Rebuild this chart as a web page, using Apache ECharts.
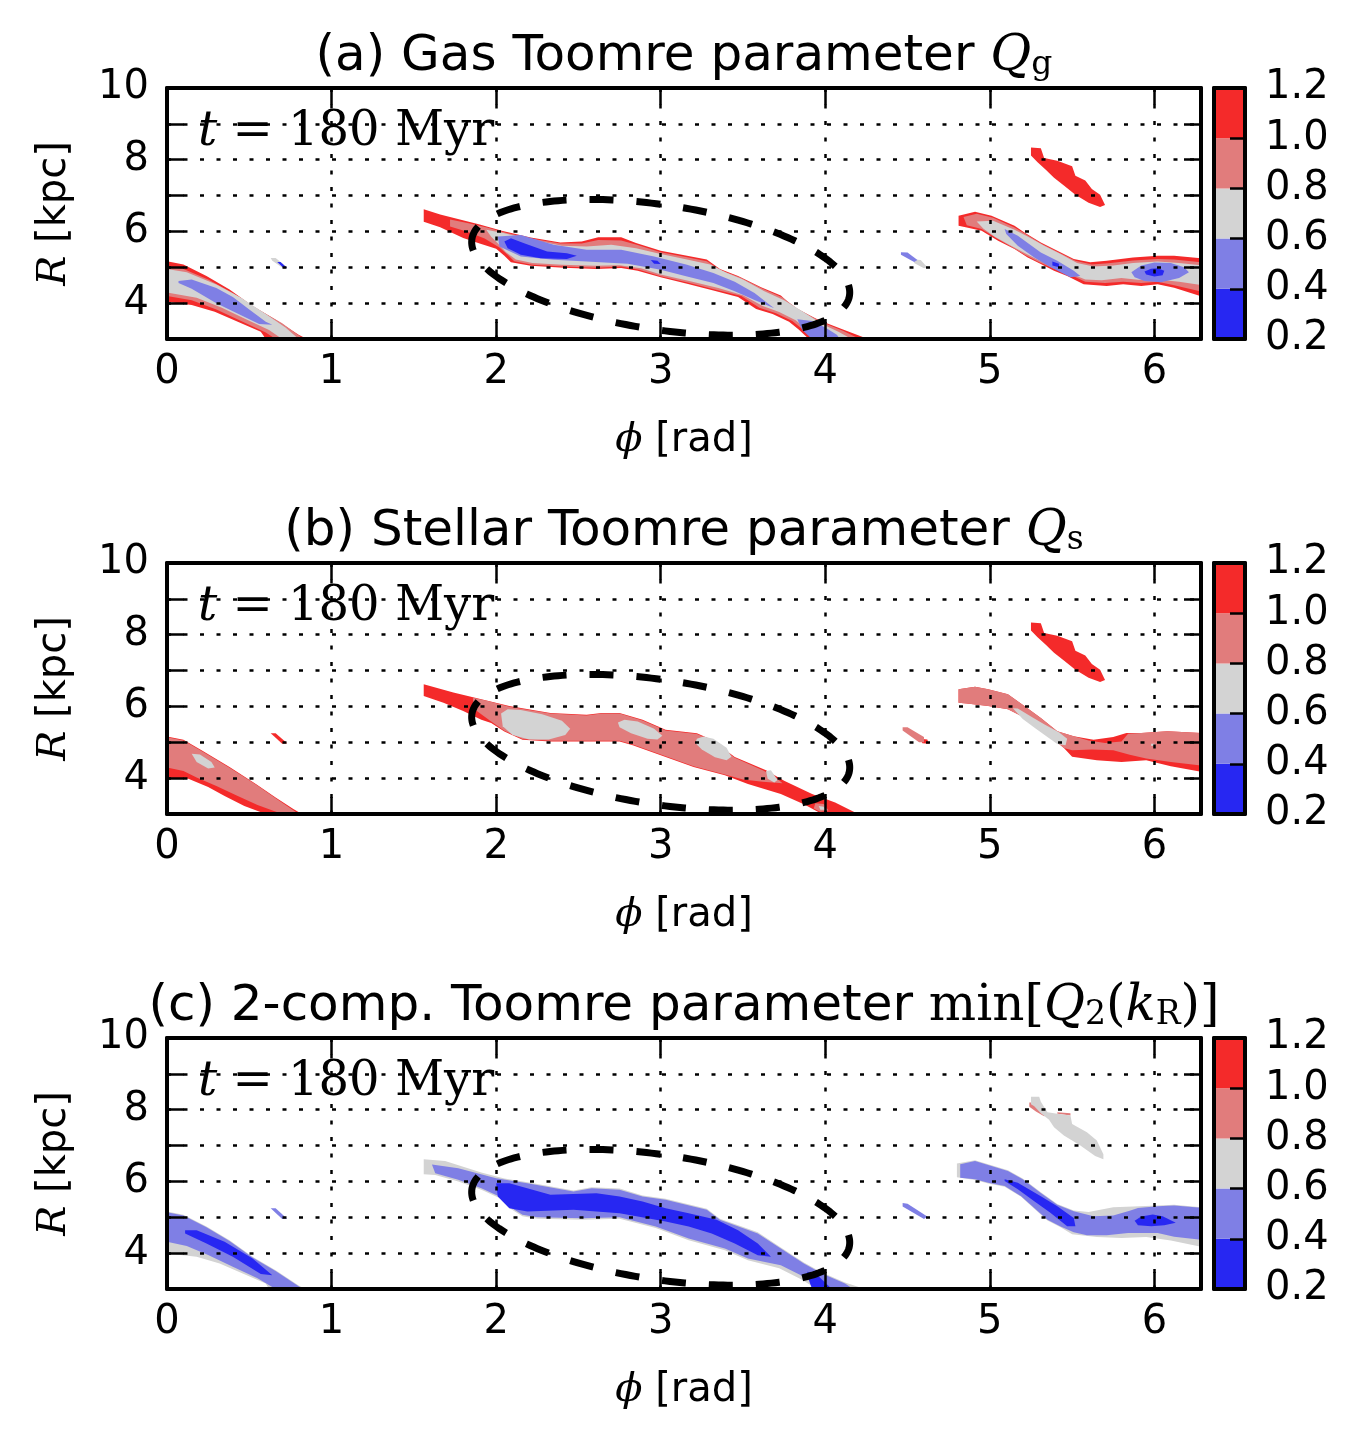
<!DOCTYPE html>
<html>
<head>
<meta charset="utf-8">
<script src="https://cdn.jsdelivr.net/npm/echarts@6/dist/echarts.min.js"></script>
<style>
  html, body { margin: 0; background: #fff; }
  #chart { width: 1359px; height: 1444px; }
</style>
</head>
<body>
<div id="chart"></div>
<script>
// contour levels of Q and their fill colours (lowest band first)
const qLevels = [0.2, 0.4, 0.6, 0.8, 1.0, 1.2];
const qColors = ['#2727f2', '#7f7fe5', '#d3d3d3', '#e17c7c', '#f42a2a'];
const phiTicks = [0, 1, 2, 3, 4, 5, 6];
const rLabels = [4, 6, 8, 10];

// dashed ellipse marking the region (centre phi, R ; semi-axes in data units ; tilt on screen)
const ellipseCenter = [3.0, 5.0];
const ellipseHalfPhi = 1.16;
const ellipseHalfR = 1.74;
const ellipseTilt = 8.5;

// ---- (a) gas Q : polygons [phi, R] per band ----
const streakOutline = [[5.25,8.34],[5.31,8.32],[5.33,8.05],[5.41,7.97],[5.50,7.82],[5.52,7.55],[5.58,7.42],[5.62,7.18],[5.67,7.02],[5.70,6.74],[5.67,6.68],[5.60,6.8],[5.52,7.02],[5.45,7.28],[5.39,7.5],[5.34,7.72],[5.29,7.93],[5.25,8.12]];

const gasRed = [
  [[0,5.17],[0.1,5.08],[0.24,4.76],[0.38,4.38],[0.52,3.92],[0.66,3.54],[0.8,3.12],[0.85,3.0],[0.6,3.0],[0.57,3.2],[0.43,3.48],[0.29,3.76],[0.15,3.95],[0,4.04]],
  [[1.56,6.62],[1.66,6.47],[1.78,6.33],[1.90,6.19],[2.04,6.01],[2.21,5.83],[2.39,5.69],[2.52,5.72],[2.62,5.84],[2.76,5.84],[2.85,5.68],[3.0,5.46],[3.16,5.32],[3.28,5.22],[3.36,4.95],[3.47,4.76],[3.61,4.44],[3.73,4.21],[3.81,3.88],[3.97,3.51],[4.10,3.28],[4.26,3.0],[3.90,3.0],[3.84,3.26],[3.78,3.48],[3.68,3.70],[3.58,3.84],[3.47,4.17],[3.32,4.35],[3.16,4.54],[3.0,4.72],[2.86,4.90],[2.76,4.98],[2.61,4.95],[2.41,4.99],[2.21,5.04],[2.09,5.14],[2.05,5.32],[2.0,5.52],[1.9,5.66],[1.8,5.82],[1.66,6.12],[1.56,6.27]],
  [[4.81,6.44],[4.91,6.55],[5.01,6.44],[5.15,6.16],[5.21,5.97],[5.31,5.69],[5.41,5.46],[5.51,5.23],[5.61,5.14],[5.71,5.18],[5.87,5.27],[6.02,5.32],[6.12,5.32],[6.29,5.25],[6.29,4.18],[6.12,4.43],[6.02,4.53],[5.92,4.48],[5.81,4.53],[5.71,4.48],[5.57,4.53],[5.47,4.76],[5.39,4.9],[5.31,5.09],[5.23,5.27],[5.15,5.51],[5.05,5.74],[4.95,6.02],[4.86,6.11],[4.81,6.16]],
  streakOutline
];
const gasPink = [
  [[0,5.02],[0.1,4.95],[0.25,4.66],[0.4,4.28],[0.55,3.84],[0.7,3.44],[0.83,3.0],[0.66,3.0],[0.6,3.18],[0.45,3.5],[0.3,3.82],[0.15,4.08],[0,4.2]],
  [[1.72,6.33],[1.84,6.22],[1.95,6.1],[2.06,5.96],[2.21,5.80],[2.39,5.66],[2.52,5.66],[2.62,5.76],[2.76,5.75],[2.86,5.62],[3.0,5.42],[3.16,5.28],[3.28,5.17],[3.37,4.91],[3.48,4.72],[3.62,4.40],[3.74,4.16],[3.83,3.85],[3.98,3.47],[4.11,3.22],[4.21,3.0],[3.93,3.0],[3.86,3.28],[3.8,3.5],[3.7,3.72],[3.6,3.87],[3.49,4.2],[3.33,4.38],[3.17,4.57],[3.0,4.75],[2.87,4.93],[2.76,5.02],[2.61,4.99],[2.41,5.02],[2.22,5.07],[2.11,5.17],[2.07,5.35],[2.02,5.55],[1.93,5.8],[1.82,6.0],[1.72,6.14]],
  [[4.84,6.40],[4.92,6.49],[5.02,6.38],[5.15,6.11],[5.22,5.92],[5.32,5.64],[5.42,5.41],[5.52,5.18],[5.62,5.08],[5.72,5.11],[5.87,5.19],[6.02,5.23],[6.12,5.22],[6.29,5.14],[6.29,4.32],[6.12,4.5],[6.02,4.6],[5.92,4.56],[5.81,4.6],[5.7,4.56],[5.58,4.6],[5.48,4.81],[5.39,4.96],[5.3,5.14],[5.22,5.33],[5.13,5.57],[5.04,5.81],[4.95,6.07],[4.86,6.17]]
];
const gasGray = [
  [[0,4.95],[0.12,4.86],[0.3,4.52],[0.45,4.15],[0.6,3.7],[0.72,3.32],[0.8,3.0],[0.7,3.0],[0.62,3.25],[0.48,3.55],[0.33,3.88],[0.18,4.15],[0,4.3]],
  [[0.63,5.26],[0.66,5.26],[0.73,5.0],[0.71,4.96],[0.64,5.18]],
  [[1.94,6.05],[2.05,5.95],[2.2,5.78],[2.4,5.6],[2.55,5.58],[2.7,5.63],[2.85,5.53],[3.0,5.37],[3.16,5.22],[3.3,5.08],[3.4,4.85],[3.5,4.66],[3.63,4.33],[3.75,4.08],[3.85,3.8],[3.98,3.42],[4.08,3.2],[4.16,3.0],[3.95,3.0],[3.88,3.3],[3.82,3.52],[3.72,3.75],[3.62,3.92],[3.5,4.22],[3.35,4.42],[3.18,4.61],[3.0,4.8],[2.88,4.97],[2.75,5.06],[2.6,5.04],[2.4,5.07],[2.22,5.12],[2.12,5.22],[2.06,5.42],[2.02,5.62],[1.97,5.85]],
  [[4.54,5.22],[4.58,5.2],[4.62,5.0],[4.6,4.97],[4.54,5.12]],
  [[4.92,6.28],[5.02,6.3],[5.15,6.05],[5.23,5.86],[5.33,5.6],[5.43,5.37],[5.53,5.12],[5.63,5.02],[5.75,5.05],[5.87,5.12],[6.02,5.16],[6.15,5.12],[6.29,5.05],[6.29,4.5],[6.15,4.6],[6.02,4.66],[5.9,4.65],[5.8,4.7],[5.68,4.64],[5.58,4.66],[5.49,4.83],[5.4,4.99],[5.31,5.17],[5.22,5.38],[5.12,5.62],[5.03,5.85],[4.96,6.08]]
];
const gasLight = [
  [[0.07,4.62],[0.15,4.66],[0.3,4.42],[0.4,4.17],[0.5,3.82],[0.6,3.48],[0.64,3.4],[0.56,3.42],[0.45,3.66],[0.3,4.0],[0.15,4.4],[0.07,4.56]],
  [[2.01,5.86],[2.15,5.90],[2.35,5.63],[2.55,5.49],[2.76,5.49],[2.96,5.30],[3.16,5.07],[3.32,4.84],[3.45,4.60],[3.57,4.28],[3.65,4.0],[3.69,3.86],[3.57,4.09],[3.45,4.33],[3.32,4.56],[3.16,4.74],[3.0,4.93],[2.8,5.1],[2.55,5.16],[2.35,5.21],[2.15,5.30],[2.02,5.58]],
  [[3.83,3.55],[3.92,3.5],[4.0,3.32],[4.07,3.12],[4.09,3.0],[3.92,3.0],[3.86,3.25]],
  [[4.46,5.42],[4.5,5.41],[4.56,5.2],[4.54,5.15],[4.46,5.35]],
  [[5.09,6.07],[5.17,5.88],[5.31,5.41],[5.41,5.18],[5.51,4.9],[5.55,4.76],[5.49,4.72],[5.37,5.0],[5.27,5.27],[5.17,5.6],[5.10,5.93]],
  [[5.86,4.86],[5.92,5.05],[6.0,5.13],[6.1,5.12],[6.18,5.0],[6.21,4.86],[6.15,4.7],[6.04,4.58],[5.94,4.62],[5.88,4.72]]
];
const gasBlue = [
  [[0.67,5.15],[0.69,5.15],[0.73,4.98],[0.71,4.97]],
  [[2.05,5.72],[2.09,5.81],[2.17,5.67],[2.31,5.44],[2.43,5.39],[2.49,5.32],[2.43,5.23],[2.27,5.25],[2.15,5.35],[2.07,5.53]],
  [[2.94,5.2],[2.98,5.18],[3.0,5.09],[2.96,5.1]],
  [[5.38,5.16],[5.42,5.1],[5.42,5.0],[5.38,5.05]],
  [[5.94,4.88],[5.98,4.96],[6.02,4.97],[6.06,4.9],[6.05,4.78],[6.0,4.74],[5.95,4.8]]
];

// ---- (b) stellar Q ----
const starRed = [
  [[0,5.16],[0.1,5.07],[0.21,4.78],[0.38,4.31],[0.54,3.84],[0.66,3.46],[0.77,3.13],[0.82,3.0],[0.6,3.0],[0.47,3.22],[0.35,3.5],[0.25,3.75],[0.13,3.98],[0,4.0]],
  [[0.63,5.25],[0.66,5.25],[0.73,4.97],[0.7,4.96]],
  [[1.56,6.62],[1.74,6.39],[1.91,6.2],[2.08,6.01],[2.33,5.82],[2.55,5.77],[2.64,5.82],[2.75,5.82],[2.89,5.63],[3.03,5.35],[3.22,5.25],[3.31,5.07],[3.45,4.59],[3.64,4.22],[3.75,3.93],[3.92,3.56],[4.06,3.32],[4.2,3.0],[3.98,3.0],[3.87,3.27],[3.73,3.56],[3.53,3.84],[3.39,4.08],[3.2,4.31],[3.03,4.59],[2.83,4.92],[2.75,5.02],[2.53,5.02],[2.33,5.02],[2.16,5.07],[2.05,5.3],[1.97,5.54],[1.91,5.63],[1.8,5.87],[1.68,6.1],[1.56,6.29]],
  [[4.58,5.1],[4.62,5.08],[4.63,4.96],[4.59,4.97]],
  [[4.81,6.48],[4.91,6.55],[4.99,6.48],[5.11,6.34],[5.21,6.01],[5.31,5.68],[5.41,5.31],[5.51,5.17],[5.63,5.07],[5.75,5.15],[5.83,5.26],[5.92,5.26],[6.08,5.31],[6.29,5.26],[6.29,4.17],[6.1,4.33],[5.95,4.5],[5.8,4.45],[5.65,4.5],[5.5,4.6],[5.45,4.84],[5.39,5.07],[5.31,5.36],[5.23,5.64],[5.11,5.92],[4.99,6.01],[4.86,6.08],[4.81,6.1]],
  streakOutline
];
const starPink = [
  [[0,5.14],[0.1,5.05],[0.21,4.76],[0.38,4.29],[0.54,3.82],[0.66,3.44],[0.77,3.1],[0.8,3.0],[0.7,3.0],[0.55,3.25],[0.42,3.52],[0.3,3.78],[0.18,4.02],[0.1,4.2],[0,4.3]],
  [[1.86,6.24],[1.95,6.15],[2.08,5.99],[2.33,5.8],[2.55,5.75],[2.64,5.8],[2.75,5.8],[2.89,5.61],[3.03,5.33],[3.22,5.23],[3.31,5.05],[3.45,4.57],[3.62,4.22],[3.7,4.02],[3.74,3.86],[3.62,3.9],[3.5,3.96],[3.39,4.1],[3.2,4.33],[3.03,4.61],[2.83,4.94],[2.75,5.04],[2.53,5.04],[2.33,5.04],[2.16,5.09],[2.05,5.32],[1.97,5.58],[1.92,5.75],[1.86,5.95]],
  [[3.94,3.3],[3.99,3.28],[4.02,3.1],[3.97,3.06],[3.93,3.15]],
  [[4.47,5.42],[4.5,5.42],[4.6,5.15],[4.6,5.0],[4.57,5.0],[4.47,5.33]],
  [[4.81,6.48],[4.91,6.55],[4.99,6.48],[5.11,6.34],[5.21,6.01],[5.31,5.68],[5.41,5.31],[5.51,5.17],[5.6,5.05],[5.7,4.98],[5.8,5.02],[5.84,5.24],[5.92,5.26],[6.08,5.31],[6.29,5.26],[6.29,4.35],[6.1,4.45],[5.95,4.55],[5.85,4.65],[5.75,4.78],[5.62,4.8],[5.5,4.78],[5.45,4.84],[5.39,5.07],[5.31,5.36],[5.23,5.64],[5.11,5.92],[4.99,6.01],[4.86,6.08],[4.81,6.1]]
];
const starGray = [
  [[0.15,4.68],[0.2,4.66],[0.27,4.45],[0.29,4.3],[0.25,4.27],[0.18,4.45]],
  [[2.03,5.8],[2.07,5.92],[2.15,5.9],[2.28,5.78],[2.4,5.6],[2.45,5.38],[2.42,5.2],[2.32,5.08],[2.2,5.08],[2.1,5.2],[2.04,5.45]],
  [[2.74,5.55],[2.78,5.63],[2.86,5.58],[2.96,5.38],[3.01,5.18],[2.98,5.08],[2.92,5.1],[2.82,5.25],[2.75,5.42]],
  [[3.22,5.1],[3.26,5.16],[3.32,5.1],[3.4,4.85],[3.43,4.6],[3.4,4.5],[3.33,4.58],[3.25,4.8],[3.21,4.98]],
  [[3.64,4.2],[3.67,4.22],[3.71,3.95],[3.69,3.88],[3.65,3.98]],
  [[3.96,3.22],[3.99,3.2],[4.0,3.12],[3.97,3.12]],
  [[5.14,5.95],[5.17,5.94],[5.25,5.72],[5.33,5.5],[5.42,5.28],[5.47,5.1],[5.46,4.92],[5.41,4.95],[5.35,5.15],[5.28,5.38],[5.2,5.65]],
  [[5.98,4.96],[6.0,4.96],[6.0,4.9],[5.98,4.9]]
];
const starLight = [];
const starBlue = [];

// ---- (c) two-component min Q2 ----
const twoRed = [];
const twoPink = [
  [[5.24,8.2],[5.27,8.2],[5.32,7.92],[5.35,7.85],[5.33,7.82],[5.28,7.95],[5.24,8.08]],
  [[5.41,7.93],[5.49,7.9],[5.49,7.84],[5.41,7.89]]
];
const twoGray = [
  [[0,5.16],[0.1,5.07],[0.24,4.74],[0.38,4.36],[0.52,3.9],[0.66,3.52],[0.8,3.1],[0.84,3.0],[0.62,3.0],[0.6,3.15],[0.46,3.43],[0.32,3.71],[0.18,3.9],[0,3.99]],
  [[1.56,6.62],[1.69,6.57],[1.91,6.25],[2.05,6.08],[2.19,5.98],[2.47,5.75],[2.58,5.84],[2.75,5.8],[2.89,5.61],[3.03,5.52],[3.28,5.24],[3.36,4.96],[3.59,4.58],[3.73,4.16],[3.87,3.74],[3.98,3.46],[4.12,3.18],[4.24,3.0],[3.95,3.0],[3.85,3.28],[3.72,3.58],[3.53,3.8],[3.39,4.08],[3.17,4.36],[2.97,4.7],[2.75,4.96],[2.53,4.93],[2.25,4.96],[2.16,5.03],[2.08,5.26],[2.02,5.54],[1.91,5.77],[1.77,6.0],[1.63,6.18],[1.56,6.2]],
  [[5.25,8.36],[5.3,8.36],[5.31,8.22],[5.35,7.93],[5.41,7.89],[5.49,7.84],[5.5,7.6],[5.59,7.37],[5.65,7.14],[5.69,6.76],[5.69,6.62],[5.64,6.71],[5.55,7.0],[5.45,7.28],[5.39,7.51],[5.36,7.72],[5.31,7.9],[5.27,8.1],[5.25,8.15]],
  [[4.8,6.5],[4.91,6.59],[5.01,6.45],[5.11,6.31],[5.2,6.08],[5.31,5.7],[5.41,5.37],[5.51,5.19],[5.6,5.15],[5.75,5.28],[5.87,5.3],[6.02,5.33],[6.12,5.35],[6.29,5.28],[6.29,4.17],[6.1,4.35],[5.95,4.45],[5.8,4.42],[5.65,4.45],[5.5,4.53],[5.43,4.72],[5.35,4.91],[5.27,5.24],[5.19,5.57],[5.09,5.85],[4.99,5.94],[4.91,6.04],[4.8,6.12]]
];
const twoLight = [
  [[0,5.14],[0.1,5.05],[0.24,4.72],[0.38,4.34],[0.52,3.88],[0.66,3.5],[0.8,3.08],[0.83,3.0],[0.66,3.0],[0.55,3.3],[0.4,3.62],[0.25,3.95],[0.12,4.2],[0,4.32]],
  [[0.63,5.25],[0.66,5.25],[0.73,4.96],[0.7,4.95]],
  [[1.61,6.47],[1.77,6.37],[2.0,6.09],[2.19,5.95],[2.47,5.72],[2.58,5.81],[2.75,5.77],[2.89,5.58],[3.03,5.49],[3.28,5.21],[3.36,4.93],[3.59,4.55],[3.73,4.13],[3.87,3.71],[3.98,3.43],[4.12,3.15],[4.17,3.0],[4.01,3.0],[3.87,3.34],[3.73,3.66],[3.53,3.85],[3.39,4.13],[3.17,4.41],[2.97,4.74],[2.75,5.0],[2.53,4.97],[2.25,5.0],[2.16,5.07],[2.08,5.3],[2.02,5.58],[1.91,5.81],[1.77,6.05],[1.63,6.23]],
  [[4.47,5.4],[4.5,5.38],[4.62,5.02],[4.6,4.95],[4.47,5.3]],
  [[4.82,6.48],[4.91,6.57],[5.01,6.43],[5.11,6.29],[5.2,6.06],[5.31,5.68],[5.41,5.35],[5.51,5.17],[5.63,5.03],[5.75,5.05],[5.85,5.18],[5.9,5.26],[6.02,5.31],[6.12,5.33],[6.29,5.26],[6.29,4.37],[6.12,4.46],[6.02,4.56],[5.92,4.56],[5.84,4.56],[5.71,4.5],[5.59,4.5],[5.51,4.58],[5.43,4.74],[5.35,4.93],[5.27,5.26],[5.19,5.59],[5.09,5.87],[4.99,5.96],[4.91,6.06],[4.82,6.1]]
];
const twoBlue = [
  [[0.11,4.64],[0.18,4.64],[0.35,4.32],[0.52,3.85],[0.64,3.38],[0.57,3.42],[0.40,3.9],[0.24,4.27],[0.11,4.55]],
  [[2.0,5.95],[2.08,5.95],[2.33,5.63],[2.61,5.67],[2.75,5.58],[2.89,5.44],[3.03,5.25],[3.17,5.11],[3.34,4.93],[3.47,4.64],[3.59,4.27],[3.67,3.9],[3.59,3.94],[3.45,4.27],[3.31,4.55],[3.17,4.74],[3.03,4.88],[2.75,5.11],[2.47,5.21],[2.19,5.16],[2.08,5.25],[2.01,5.58]],
  [[3.89,3.48],[3.95,3.4],[4.03,3.04],[4.03,3.0],[3.92,3.0],[3.9,3.25]],
  [[5.09,6.06],[5.17,5.96],[5.31,5.59],[5.41,5.31],[5.51,4.98],[5.52,4.75],[5.47,4.75],[5.37,5.12],[5.27,5.45],[5.17,5.78],[5.09,6.01]],
  [[5.88,4.9],[5.92,5.02],[5.99,5.08],[6.05,5.03],[6.13,4.85],[6.06,4.78],[5.98,4.75],[5.9,4.78]]
];

// layout
const plotLeft = 167, plotWidth = 1034, plotHeight = 251;
const barLeft = 1214, barWidth = 31;
const panelTops = [88, 563, 1038];
const phiMax = 2 * Math.PI;

const serif = 'DejaVu Serif';
const sans = 'DejaVu Sans';
const mathRich = {
  t: { fontFamily: sans, fontSize: 50, lineHeight: 56, verticalAlign: 'bottom', color: '#000' },
  q: { fontFamily: serif, fontStyle: 'italic', fontSize: 50, lineHeight: 56, verticalAlign: 'bottom', color: '#000' },
  r: { fontFamily: serif, fontSize: 50, lineHeight: 56, verticalAlign: 'bottom', color: '#000' },
  s: { fontFamily: serif, fontSize: 33, lineHeight: 27, verticalAlign: 'bottom', color: '#000' }
};

const panels = [
  { layers: [gasBlue, gasLight, gasGray, gasPink, gasRed],
    title: '{t|(a) Gas Toomre parameter }{q|Q}{s|g}' },
  { layers: [starBlue, starLight, starGray, starPink, starRed],
    title: '{t|(b) Stellar Toomre parameter }{q|Q}{s|s}' },
  { layers: [twoBlue, twoLight, twoGray, twoPink, twoRed],
    title: '{t|(c) 2-comp. Toomre parameter }{r|min[}{q|Q}{s|2}{r|(}{q|k}{s|R}{r|)]}' }
];

const black = '#000';
const grids = [], xAxes = [], yAxes = [], series = [], graphics = [];

function plotX(gi, pos, withLabels) {
  return {
    type: 'value', gridIndex: gi, position: pos, min: 0, max: phiMax, interval: 1, z: 10,
    axisLine: { show: true, onZero: false, lineStyle: { color: black, width: 4 } },
    axisTick: { show: true, inside: true, length: 17, lineStyle: { color: black, width: 2.5 } },
    axisLabel: {
      show: withLabels, margin: 14, fontSize: 40, fontFamily: sans, color: black,
      showMaxLabel: false,
      formatter: v => (phiTicks.indexOf(v) >= 0 ? String(v) : '')
    },
    splitLine: { show: withLabels, lineStyle: { color: black, width: 2.5, type: [4, 12.5] } },
    name: withLabels ? '{p|ϕ}{t| [rad]}' : '',
    nameLocation: 'middle', nameGap: 78, nameMoveOverlap: false,
    nameTextStyle: { rich: {
      p: { fontFamily: serif, fontStyle: 'italic', fontSize: 40, verticalAlign: 'bottom', lineHeight: 44, color: black },
      t: { fontFamily: sans, fontSize: 40, verticalAlign: 'bottom', lineHeight: 44, color: black } } }
  };
}
function plotY(gi, pos, withLabels) {
  return {
    type: 'value', gridIndex: gi, position: pos, min: 3, max: 10, interval: 1, z: 10,
    axisLine: { show: true, onZero: false, lineStyle: { color: black, width: 4 } },
    axisTick: { show: true, inside: true, length: 17, lineStyle: { color: black, width: 2.5 } },
    axisLabel: {
      show: withLabels, margin: 18, fontSize: 40, fontFamily: sans, color: black,
      formatter: v => (rLabels.indexOf(v) >= 0 ? String(v) : '')
    },
    splitLine: { show: withLabels, lineStyle: { color: black, width: 2.5, type: [4, 12.5] } },
    name: withLabels ? '{p|R}{t| [kpc]}' : '',
    nameLocation: 'middle', nameGap: 92, nameRotate: 90, nameMoveOverlap: false,
    nameTextStyle: { rich: {
      p: { fontFamily: serif, fontStyle: 'italic', fontSize: 40, verticalAlign: 'bottom', lineHeight: 44, color: black },
      t: { fontFamily: sans, fontSize: 40, verticalAlign: 'bottom', lineHeight: 44, color: black } } }
  };
}
function barX(gi, pos) {
  return {
    type: 'value', gridIndex: gi, position: pos, min: 0, max: 1, z: 10,
    axisLine: { show: true, onZero: false, lineStyle: { color: black, width: 4 } },
    axisTick: { show: false }, axisLabel: { show: false }, splitLine: { show: false }
  };
}
function barY(gi, pos, withLabels) {
  return {
    type: 'value', gridIndex: gi, position: pos, min: 0.2, max: 1.2, interval: 0.2, z: 10,
    axisLine: { show: true, onZero: false, lineStyle: { color: black, width: 4 } },
    axisTick: { show: withLabels, inside: true, length: 15, lineStyle: { color: black, width: 2.5 } },
    axisLabel: { show: withLabels, margin: 20, fontSize: 40, fontFamily: sans, color: black,
      formatter: v => v.toFixed(1) },
    splitLine: { show: false }
  };
}

function polyRenderer(polys, color) {
  return function (params, api) {
    const pts = polys[params.dataIndex].map(p => api.coord(p));
    return { type: 'polygon', shape: { points: pts }, style: { fill: color } };
  };
}

function ellipseRenderer(params, api) {
  const c = api.coord([api.value(0), api.value(1)]);
  const rx = api.size([ellipseHalfPhi, 0])[0];
  const ry = api.size([0, ellipseHalfR])[1];
  const th = ellipseTilt * Math.PI / 180;
  const pts = [];
  const t0 = Math.PI - 0.19;
  for (let k = 0; k <= 240; k++) {
    const t = t0 + k / 240 * 2 * Math.PI;
    const ex = rx * Math.cos(t), ey = -ry * Math.sin(t);
    pts.push([c[0] + ex * Math.cos(th) - ey * Math.sin(th), c[1] + ex * Math.sin(th) + ey * Math.cos(th)]);
  }
  return { type: 'polyline', shape: { points: pts },
    style: { stroke: black, lineWidth: 7, lineDash: [24, 23], lineCap: 'butt', fill: null } };
}

panels.forEach((pn, i) => {
  const top = panelTops[i];
  const gPlot = grids.length;
  grids.push({ left: plotLeft, top: top, width: plotWidth, height: plotHeight, containLabel: false, outerBoundsMode: 'none' });
  const gBar = grids.length;
  grids.push({ left: barLeft, top: top, width: barWidth, height: plotHeight, containLabel: false, outerBoundsMode: 'none' });

  const xi = xAxes.length;
  xAxes.push(plotX(gPlot, 'bottom', true), plotX(gPlot, 'top', false), barX(gBar, 'bottom'), barX(gBar, 'top'));
  const yi = yAxes.length;
  yAxes.push(plotY(gPlot, 'left', true), plotY(gPlot, 'right', false), barY(gBar, 'left', false), barY(gBar, 'right', true));

  // filled contour bands, highest band first so lower bands sit on top
  for (let lv = 4; lv >= 0; lv--) {
    const polys = pn.layers[lv];
    if (!polys.length) continue;
    series.push({
      type: 'custom', xAxisIndex: xi, yAxisIndex: yi, clip: true, z: 2, silent: true,
      renderItem: polyRenderer(polys, qColors[lv]),
      data: polys.map(p => p[0])
    });
  }
  series.push({
    type: 'custom', xAxisIndex: xi, yAxisIndex: yi, clip: true, z: 3, silent: true,
    renderItem: ellipseRenderer,
    data: [ellipseCenter]
  });
  // colour bar
  series.push({
    type: 'custom', xAxisIndex: xi + 2, yAxisIndex: yi + 3, z: 2, silent: true,
    renderItem: function (params, api) {
      const lo = api.value(0), hi = api.value(1);
      const p0 = api.coord([0, hi]), p1 = api.coord([1, lo]);
      return { type: 'rect', shape: { x: p0[0], y: p0[1], width: p1[0] - p0[0], height: p1[1] - p0[1] },
        style: { fill: qColors[params.dataIndex] } };
    },
    data: qLevels.slice(0, -1).map((lo, k) => [lo, qLevels[k + 1]])
  });

  graphics.push({
    type: 'text', x: 684, y: top - 34,
    style: { text: pn.title, rich: mathRich, align: 'center', verticalAlign: 'middle', fill: black }
  });
  graphics.push({
    type: 'text', x: 198, y: top + 45,
    style: { text: '{q|t}{r| = 180 Myr}', align: 'left', verticalAlign: 'middle', fill: black,
      rich: {
        q: { fontFamily: serif, fontStyle: 'italic', fontSize: 48, color: black },
        r: { fontFamily: serif, fontSize: 48, color: black }
      } }
  });
});

const chart = echarts.init(document.getElementById('chart'), null, { renderer: 'canvas' });
chart.setOption({
  animation: false,
  backgroundColor: '#fff',
  grid: grids,
  xAxis: xAxes,
  yAxis: yAxes,
  series: series,
  graphic: graphics
});
</script>
</body>
</html>
